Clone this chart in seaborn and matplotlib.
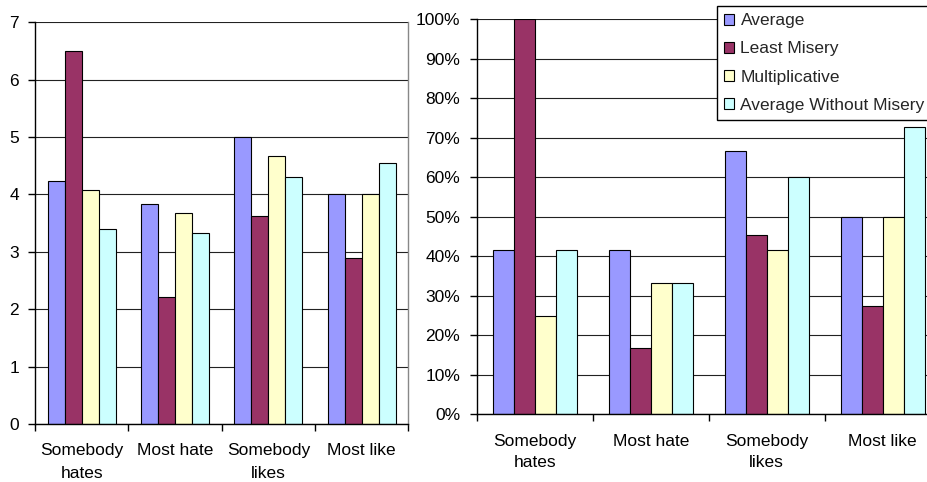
import matplotlib
matplotlib.use("Agg")
import matplotlib.pyplot as plt
import pandas as pd
import seaborn as sns
from matplotlib.ticker import PercentFormatter, MultipleLocator

# Scenarios (x categories) and aggregation strategies (hue)
scenarios = ["Somebody\nhates", "Most hate", "Somebody\nlikes", "Most like"]
strategies = ["Average", "Least Misery", "Multiplicative", "Average Without Misery"]
colors = ["#9999FF", "#993366", "#FFFFCC", "#CCFFFF"]

# Left panel: mean rating per scenario
rating_average = [4.23, 3.83, 5.00, 4.00]
rating_least_misery = [6.50, 2.22, 3.63, 2.90]
rating_multiplicative = [4.07, 3.67, 4.67, 4.00]
rating_without_misery = [3.40, 3.33, 4.30, 4.55]

# Right panel: share per scenario (percent)
share_average = [41.7, 41.7, 66.7, 50.0]
share_least_misery = [100.0, 16.7, 45.5, 27.3]
share_multiplicative = [25.0, 33.3, 41.7, 50.0]
share_without_misery = [41.7, 33.3, 60.0, 72.7]


def long_frame(series):
    rows = []
    for name, values in zip(strategies, series):
        for sc, v in zip(scenarios, values):
            rows.append({"scenario": sc, "strategy": name, "value": v})
    return pd.DataFrame(rows)


ratings = long_frame([rating_average, rating_least_misery,
                      rating_multiplicative, rating_without_misery])
shares = long_frame([share_average, share_least_misery,
                     share_multiplicative, share_without_misery])

sns.set_theme(style="white")
plt.rcParams["font.family"] = ["Liberation Sans", "DejaVu Sans"]
FS = 12.5

fig = plt.figure(figsize=(9.28, 4.82), dpi=100)
ax1 = fig.add_axes([35 / 928, 1 - 424 / 482, (408.3 - 35) / 928, (424 - 22.3) / 482])
ax2 = fig.add_axes([476.7 / 928, 1 - 414.3 / 482, 464 / 928, (414.3 - 19.3) / 482])


def draw(ax, df, show_legend, spacing, ypad):
    sns.barplot(data=df, x="scenario", y="value", hue="strategy",
                order=scenarios, hue_order=strategies, palette=colors,
                saturation=1, width=0.727, gap=0, errorbar=None,
                edgecolor="black", linewidth=0.8, legend=show_legend, ax=ax)
    ax.set_xlim(-0.5, 3.5)
    ax.set_xlabel("")
    ax.set_ylabel("")
    ax.set_axisbelow(True)
    ax.yaxis.grid(True, color="#222222", linewidth=0.8)
    ax.xaxis.grid(False)
    ax.set_xticks(range(len(scenarios)))
    ax.set_xticklabels(scenarios, fontsize=FS, linespacing=spacing)
    ax.set_xticks([i - 0.5 for i in range(len(scenarios) + 1)], minor=True)
    ax.tick_params(axis="x", which="major", length=0, pad=14, colors="black")
    ax.tick_params(axis="x", which="minor", length=5, width=1, direction="out",
                   bottom=True, color="black")
    ax.tick_params(axis="y", length=5, width=1, direction="out", left=True,
                   pad=ypad, labelsize=FS, colors="black")
    for s in ("left", "bottom"):
        ax.spines[s].set_color("black")
        ax.spines[s].set_linewidth(1)
    ax.spines["top"].set_visible(False)


draw(ax1, ratings, False, 1.62, 6.5)
ax1.set_ylim(0, 7)
ax1.yaxis.set_major_locator(MultipleLocator(1))
ax1.spines["right"].set_color("#888888")
ax1.spines["right"].set_linewidth(1)

draw(ax2, shares, True, 1.5, 7)
ax2.set_ylim(0, 100)
ax2.yaxis.set_major_locator(MultipleLocator(10))
ax2.yaxis.set_major_formatter(PercentFormatter(decimals=0))
ax2.spines["right"].set_visible(False)

handles, labels = ax2.get_legend_handles_labels()
ax2.get_legend().remove()
leg = fig.legend(handles, labels, loc="upper left",
                 bbox_to_anchor=(716.7 / 928, 1 - 6 / 482),
                 bbox_transform=fig.transFigure, fontsize=FS,
                 handlelength=0.6, handleheight=0.6, handletextpad=0.35,
                 labelspacing=0.76, borderpad=0.42, borderaxespad=0,
                 frameon=True, fancybox=False, framealpha=1,
                 edgecolor="black")
leg.get_frame().set_linewidth(1)

fig.savefig("out.png", dpi=100)
